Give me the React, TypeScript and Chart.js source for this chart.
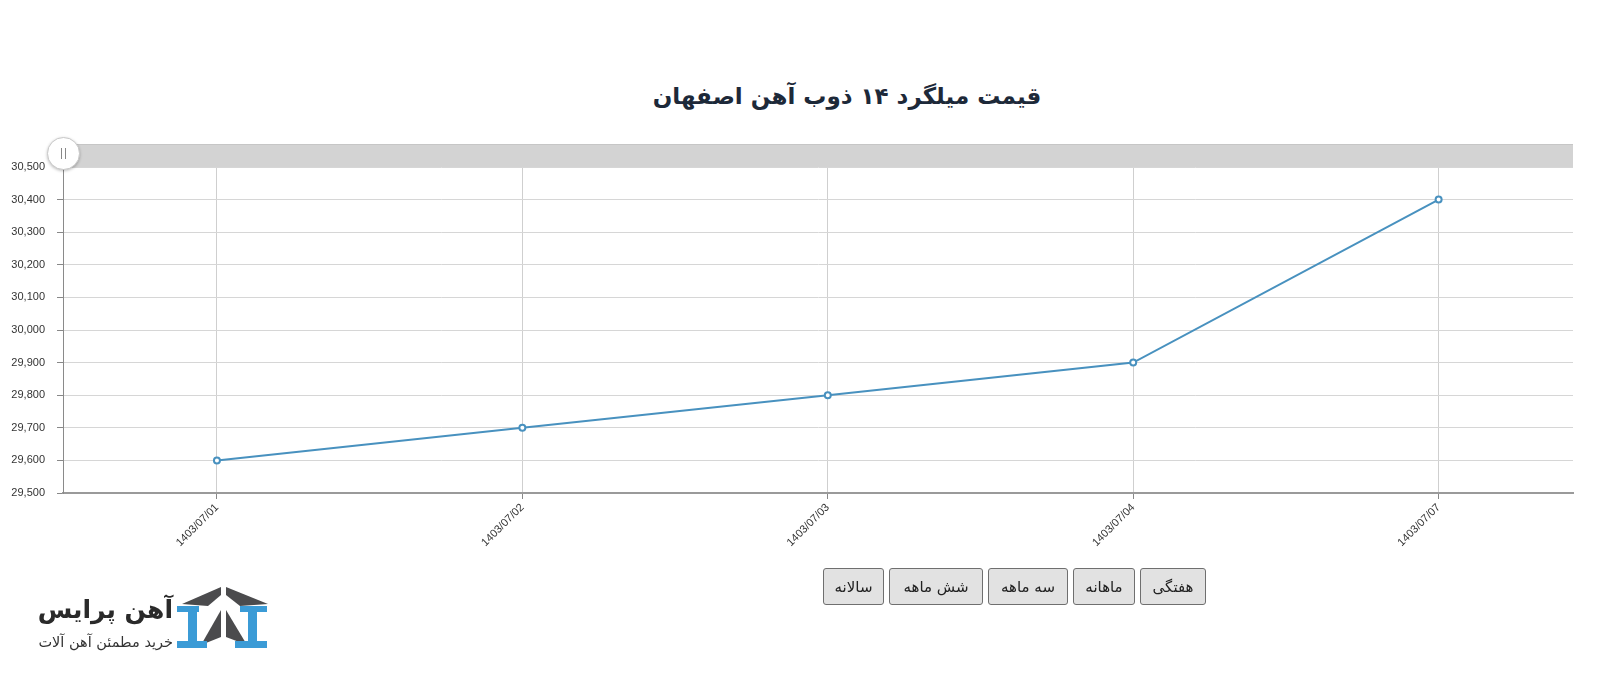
import React, { useEffect, useRef } from "react";
import { Chart, registerables } from "chart.js";

Chart.register(...registerables);

const chartTitle = "قیمت میلگرد ۱۴ ذوب آهن اصفهان";
const dateLabels = ["1403/07/01", "1403/07/02", "1403/07/03", "1403/07/04", "1403/07/07"];
const prices = [29600, 29700, 29800, 29900, 30400];
const yMin = 29500;
const yMax = 30500;
const yStep = 100;
const periodButtons = ["سالانه", "شش ماهه", "سه ماهه", "ماهانه", "هفتگی"];
const buttonWidths = [61, 94, 80, 62, 66];
const brandName = "آهن پرایس";
const brandSlogan = "خرید مطمئن آهن آلات";

const LINE_COLOR = "#4891bf";
const FA_FONT = "'DejaVu Sans', sans-serif";

export default function App() {
  const canvasRef = useRef<HTMLCanvasElement | null>(null);

  useEffect(() => {
    const canvas = canvasRef.current;
    if (!canvas) return;
    const chart = new Chart(canvas, {
      type: "line",
      data: {
        datasets: [
          {
            data: prices.map((v, i) => ({ x: i, y: v })),
            borderColor: LINE_COLOR,
            borderWidth: 2,
            pointRadius: 3,
            pointBorderWidth: 2,
            pointBackgroundColor: "#ffffff",
            pointBorderColor: LINE_COLOR,
            tension: 0,
            fill: false,
          },
        ],
      },
      options: {
        responsive: false,
        animation: false,
        layout: { padding: { top: 167, left: 0, right: 27, bottom: 140 } },
        plugins: {
          legend: { display: false },
          tooltip: { enabled: false },
          title: { display: false },
        },
        scales: {
          x: {
            type: "linear",
            min: -0.504,
            max: 4.44,
            afterBuildTicks: (scale: any) => {
              scale.ticks = dateLabels.map((_, i) => ({ value: i }));
            },
            afterFit: (scale: any) => {
              scale.height = 60;
            },
            ticks: {
              autoSkip: false,
              minRotation: 45,
              maxRotation: 45,
              padding: 2,
              color: "#333",
              font: { family: "'Liberation Sans', Arial, sans-serif", size: 11 },
              callback: (v: any) => dateLabels[Math.round(Number(v))] ?? "",
            },
            grid: { color: "#cfcfcf", tickColor: "#888", tickLength: 6, lineWidth: 1 },
            border: { color: "#9a9a9a", width: 2 },
          },
          y: {
            min: yMin,
            max: yMax,
            afterFit: (scale: any) => {
              scale.width = 63;
            },
            ticks: {
              stepSize: yStep,
              padding: 12,
              color: "#333",
              font: { family: "'Liberation Sans', Arial, sans-serif", size: 11 },
              callback: (v: any) => Number(v).toLocaleString("en-US"),
            },
            grid: { color: "#d6d6d6", tickColor: "#888", tickLength: 6, lineWidth: 1 },
            border: { color: "#8a8a8a", width: 1 },
          },
        },
      },
    } as any);
    return () => chart.destroy();
  }, []);

  return (
    <div style={{ position: "absolute", left: 0, top: 0, width: 1600, height: 693, background: "#fff", overflow: "hidden" }}>
      <div
        style={{
          position: "absolute",
          left: 447,
          top: 77,
          width: 800,
          textAlign: "center",
          direction: "rtl",
          whiteSpace: "nowrap",
          fontFamily: FA_FONT,
          fontWeight: "bold",
          fontSize: 23,
          color: "#1d2939",
          lineHeight: "38px",
        }}
      >
        {chartTitle}
      </div>
      <div
        style={{
          position: "absolute",
          left: 63,
          top: 144,
          width: 1510,
          height: 22,
          background: "#d3d3d3",
          borderTop: "1px solid #c6c6c6",
        }}
      />
      <canvas ref={canvasRef} width={1600} height={693} style={{ position: "absolute", left: 0, top: 0 }} />
      <div
        style={{
          position: "absolute",
          left: 47,
          top: 137,
          width: 31,
          height: 31,
          borderRadius: "50%",
          background: "#fff",
          border: "1px solid #c8c8c8",
          boxShadow: "0 1px 3px rgba(0,0,0,0.25)",
        }}
      >
        <div style={{ position: "absolute", left: 13, top: 10, width: 1, height: 11, background: "#888" }} />
        <div style={{ position: "absolute", left: 17, top: 10, width: 1, height: 11, background: "#888" }} />
      </div>
      <div style={{ position: "absolute", left: 823, top: 568, display: "flex", gap: 5 }}>
        {periodButtons.map((b, i) => (
          <div
            key={b}
            style={{
              width: buttonWidths[i],
              height: 37,
              boxSizing: "border-box",
              border: "1px solid #6f6f6f",
              borderRadius: 3,
              background: "#e2e2e2",
              fontFamily: FA_FONT,
              fontSize: 15,
              color: "#222",
              direction: "rtl",
              display: "flex",
              alignItems: "center",
              justifyContent: "center",
            }}
          >
            {b}
          </div>
        ))}
      </div>
      <div
        style={{
          position: "absolute",
          left: 10,
          top: 592,
          width: 163,
          textAlign: "right",
          direction: "rtl",
          whiteSpace: "nowrap",
          fontFamily: FA_FONT,
          fontWeight: "bold",
          fontSize: 25,
          color: "#2a2a2a",
          lineHeight: "36px",
        }}
      >
        {brandName}
      </div>
      <div
        style={{
          position: "absolute",
          left: 10,
          top: 632,
          width: 163,
          textAlign: "right",
          direction: "rtl",
          whiteSpace: "nowrap",
          fontFamily: FA_FONT,
          fontSize: 14.5,
          color: "#333",
          lineHeight: "20px",
        }}
      >
        {brandSlogan}
      </div>
      <svg style={{ position: "absolute", left: 170, top: 580 }} width={105} height={75} viewBox="170 580 105 75">
        <polygon points="182,604 221,587 221,595 208,606" fill="#4b4b4d" />
        <polygon points="268,604 226,587 226,595 240,606" fill="#4b4b4d" />
        <polygon points="201,645 221,610 221,637" fill="#4b4b4d" />
        <polygon points="247,645 226,610 226,637" fill="#4b4b4d" />
        <rect x={177} y={606} width={22} height={6} fill="#3b9bd6" />
        <rect x={188} y={611} width={9} height={31} fill="#3b9bd6" />
        <rect x={177} y={641} width={30} height={7} fill="#3b9bd6" />
        <rect x={240} y={606} width={27} height={6} fill="#3b9bd6" />
        <rect x={248} y={611} width={9} height={31} fill="#3b9bd6" />
        <rect x={235} y={641} width={32} height={7} fill="#3b9bd6" />
      </svg>
    </div>
  );
}
